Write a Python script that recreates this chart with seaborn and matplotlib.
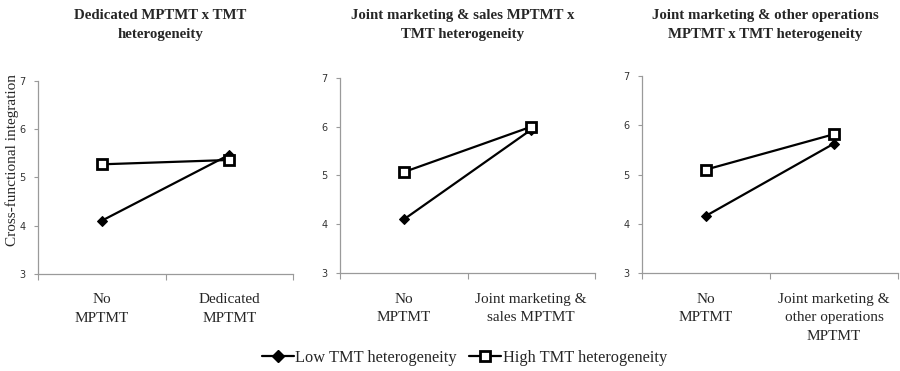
import matplotlib
matplotlib.use("Agg")
import matplotlib.pyplot as plt
import seaborn as sns
import pandas as pd
from matplotlib.lines import Line2D

titles = [
    "Dedicated MPTMT x TMT\nheterogeneity",
    "Joint marketing & sales MPTMT x\nTMT heterogeneity",
    "Joint marketing & other operations\nMPTMT x TMT heterogeneity",
]
categories = [
    ["No\nMPTMT", "Dedicated\nMPTMT"],
    ["No\nMPTMT", "Joint marketing &\nsales MPTMT"],
    ["No\nMPTMT", "Joint marketing &\nother operations\nMPTMT"],
]
low_tmt = [[4.10, 5.47], [4.10, 5.94], [4.16, 5.63]]
high_tmt = [[5.27, 5.36], [5.07, 6.00], [5.10, 5.82]]
series_names = ["Low TMT heterogeneity", "High TMT heterogeneity"]
y_ticks = [3, 4, 5, 6, 7]
y_label = "Cross-functional integration"

sns.set_theme(style="white")
plt.rcParams["font.family"] = ["Liberation Serif", "DejaVu Serif"]

W, H = 900, 371
fig = plt.figure(figsize=(W / 100, H / 100), dpi=100)
boxes = [
    [0.042, 0.262, 0.284, 0.520],
    [0.378, 0.264, 0.283, 0.526],
    [0.713, 0.264, 0.285, 0.531],
]

spine_col = "#9a9a9a"
for i, box in enumerate(boxes):
    ax = fig.add_axes(box)
    df = pd.DataFrame({
        "cat": categories[i] * 2,
        "value": low_tmt[i] + high_tmt[i],
        "group": [series_names[0]] * 2 + [series_names[1]] * 2,
    })
    sns.lineplot(data=df[df.group == series_names[0]], x="cat", y="value",
                 ax=ax, color="black", lw=1.6, marker="D", markersize=5,
                 markerfacecolor="black", markeredgecolor="black", sort=False)
    sns.lineplot(data=df[df.group == series_names[1]], x="cat", y="value",
                 ax=ax, color="black", lw=1.6, marker="s", markersize=7,
                 markerfacecolor="white", markeredgecolor="black",
                 markeredgewidth=2, sort=False)
    ax.set_xlim(-0.5, 1.5)
    ax.set_ylim(3, 7)
    ax.set_yticks(y_ticks)
    ax.set_yticklabels([str(t) for t in y_ticks], family="DejaVu Sans",
                       fontsize=7, color="#333333")
    ax.set_xticks([0, 1])
    ax.set_xticklabels(categories[i], fontsize=11, linespacing=1.55)
    ax.set_xticks([-0.5, 0.5, 1.5], minor=True)
    ax.tick_params(axis="x", which="major", length=0, pad=14)
    ax.tick_params(axis="x", which="minor", length=4, direction="out",
                   color=spine_col, width=0.8, bottom=True)
    ax.tick_params(axis="y", which="major", length=3, direction="out",
                   color=spine_col, width=0.8, left=True, pad=6)
    for s in ["top", "right"]:
        ax.spines[s].set_visible(False)
    for s in ["left", "bottom"]:
        ax.spines[s].set_color(spine_col)
        ax.spines[s].set_linewidth(0.9)
    ax.set_xlabel("")
    if i == 0:
        ax.set_ylabel(y_label, fontsize=11)
        ax.yaxis.set_label_coords(-0.072, 0.59)
    else:
        ax.set_ylabel("")
    if ax.get_legend() is not None:
        ax.get_legend().remove()
    # panel heading, centred slightly left of the plotting area
    xc = box[0] + box[2] / 2 - 5 / W
    fig.text(xc, 1 - 25 / H, titles[i], ha="center", va="center",
             fontsize=10.7, fontweight="bold", linespacing=1.6)

handles = [
    Line2D([], [], color="black", lw=1.6, marker="D", markersize=6,
           markerfacecolor="black"),
    Line2D([], [], color="black", lw=1.6, marker="s", markersize=7,
           markerfacecolor="white", markeredgewidth=2),
]
fig.legend(handles, series_names, loc="center",
           bbox_to_anchor=(464.5 / W, 1 - 358 / H), ncol=2, frameon=False,
           fontsize=11.8, handlelength=1.95, handletextpad=0.1,
           columnspacing=0.75, borderpad=0.1)

fig.savefig("out.png", dpi=100, facecolor="white")
